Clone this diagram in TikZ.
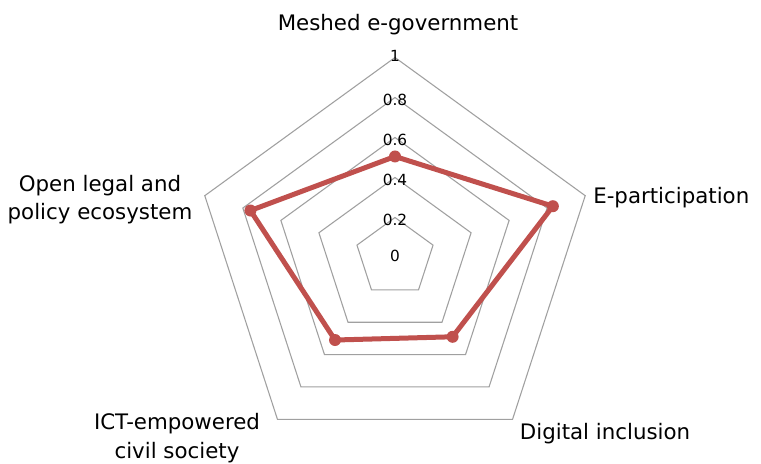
\documentclass[tikz,border=0pt]{standalone}
\usepackage{fontspec}
\setmainfont{DejaVu Sans}
\definecolor{datared}{RGB}{192,80,77}
\definecolor{gridgray}{RGB}{160,160,160}
\begin{document}
\begin{tikzpicture}[x=0.75pt,y=0.75pt,
  ring/.style={draw=gridgray, line width=0.8pt, line join=miter},
  series/.style={draw=datared, line width=3.75pt, line join=round},
  dot/.style={circle, fill=datared, inner sep=0pt, minimum size=9pt},
  axislabel/.style={font=\fontsize{16}{21.4}\selectfont, inner sep=0pt, align=center},
  ticklabel/.style={font=\fontsize{11.5}{14}\selectfont, inner sep=0pt}]
\useasboundingbox[fill=white] (0,0) rectangle (761,464);
\coordinate (c) at (395,206.5);
\begin{scope}[shift={(c)}]
  \foreach \r in {40,80,120,160,200}
    \draw[ring] (90:\r) -- (18:\r) -- (-54:\r) -- (-126:\r) -- (162:\r) -- cycle;
  \coordinate (pm) at (90:101);
  \coordinate (pe) at (18:166);
  \coordinate (pd) at (-54:98);
  \coordinate (pi) at (-126:102);
  \coordinate (po) at (162:152);
\end{scope}
\draw[series] (pm) -- (pe) -- (pd) -- (pi) -- (po) -- cycle;
\foreach \p in {pm,pe,pd,pi,po}
  \node[dot] (d\p) at (\p) {};
% tick labels
\node[ticklabel] (t0) at (395,208.5) {0};
\node[ticklabel] (t2) at (395,244.3) {0.2};
\node[ticklabel] (t4) at (395,284) {0.4};
\node[ticklabel] (t6) at (395,324) {0.6};
\node[ticklabel] (t8) at (395,364.3) {0.8};
\node[ticklabel] (t10) at (395,408.5) {1};
% axis labels
\node[axislabel, anchor=base] (lm) at (398,433) {Meshed e-government};
\node[axislabel, anchor=base west] (le) at (593,260) {E-participation};
\node[axislabel, anchor=base west] (ld) at (519.7,24.7) {Digital inclusion};
\node[axislabel, anchor=base] (li) at (177,5.7) {ICT-empowered\\civil society};
\node[axislabel, anchor=base] (lo) at (100,244) {Open legal and\\policy ecosystem};
\end{tikzpicture}
\end{document}
